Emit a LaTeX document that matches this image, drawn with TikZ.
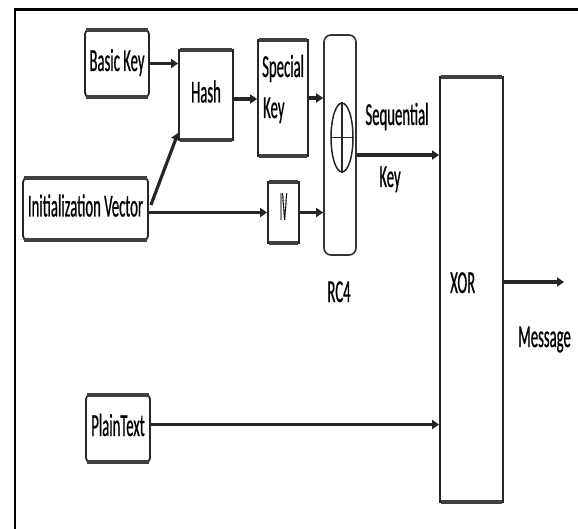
\documentclass[tikz,border=0pt]{standalone}
\usepackage{fontspec}
\usepackage{graphicx}
\usetikzlibrary{arrows.meta,shapes.geometric}
\newfontfamily\cf[FakeStretch=0.46,FakeBold=0.6]{Carlito}
\begin{document}
\begin{tikzpicture}[x=1pt,y=-1pt,
  txt/.style={font=\cf\fontsize{32}{38}\selectfont},
  box/.style={txt, draw=black!85, line width=1.8pt, fill=white, inner sep=0pt, text height=22pt, text depth=7pt},
  rbox/.style={box, rounded corners=4pt},
  lbl/.style={txt, inner sep=0pt},
  arr/.style={draw=black!85, line width=3.2pt, -{Triangle[length=7pt,width=9pt]}},
  edgebar/.style={line width=4pt, draw=black!75}]
\useasboundingbox (0,0) rectangle (578,529);
% frame
\draw[line width=2.8pt] (15,529) -- (15,9.5) -- (578,9.5);
% boxes
\node[rbox, minimum width=64pt, minimum height=67pt] (bk) at (117,63.5) {Basic Key};
\node[box, minimum width=54pt, minimum height=90pt] (hash) at (206,95) {Hash};
\node[box, minimum width=50pt, minimum height=116pt] (sk) at (283,98) {};
\node[rbox, minimum width=125pt, minimum height=62pt] (init) at (85.5,209) {Initialization Vector};
\node[box, minimum width=31pt, minimum height=61pt] (iv) at (283.5,212.5) {\scalebox{0.6}[1.3]{IV}};
\node[draw=black!80, line width=1.6pt, fill=white, rounded corners=7pt, minimum width=32pt, minimum height=220pt, inner sep=0pt] (rc4) at (340,145) {};
\node[draw=black!85, line width=1.5pt, ellipse, minimum width=22pt, minimum height=69pt, inner sep=0pt] (plus) at (342,137.5) {};
\draw[line width=1.5pt, black!85] (plus.north) -- (plus.south) (plus.west) -- (plus.east);
\node[rbox, minimum width=64pt, minimum height=67pt] (pt) at (118,428.5) {PlainText};
\node[box, minimum width=63pt, minimum height=425pt] (xor) at (471.5,289.5) {};
\foreach \n in {bk,hash,sk,init,iv,pt,xor}{
  \draw[edgebar] ([xshift=2pt,yshift=-1pt]\n.north west) -- ([xshift=-2pt,yshift=-1pt]\n.north east);
  \draw[edgebar] ([xshift=2pt,yshift=1pt]\n.south west) -- ([xshift=-2pt,yshift=1pt]\n.south east);
}
% labels
\node[lbl, anchor=base west] (skt1) at (262,77) {Special};
\node[lbl, anchor=base west] (skt2) at (263,118) {Key};
\node[lbl, anchor=base] (seq) at (397,125) {Sequential};
\node[lbl, anchor=base] (seqkey) at (390,187) {Key};
\node[lbl, anchor=base] (rc4t) at (339,302) {RC4};
\node[lbl, anchor=base west] (xort) at (450,293) {XOR};
\node[lbl, anchor=base west] (msg) at (518,347) {Message};
\coordinate (msgend) at (564,282);
\coordinate (hout) at ([yshift=-4pt]hash.east);
\coordinate (rout) at ([yshift=-10pt]rc4.east);
\coordinate (pout) at ([yshift=4pt]pt.east);
\coordinate (iout) at ([xshift=2pt,yshift=4pt]init.east);
\coordinate (hin) at ([yshift=8pt]hash.south west);
% connectors
\draw[arr] (bk.east) -- (hash.west |- bk.east);
\draw[arr] (hout) -- (sk.west |- hout);
\draw[arr] (sk.east) -- (rc4.west |- sk.east);
\draw[arr] (init.east |- iv.west) -- (iv.west);
\draw[arr] (iout) -- (hin);
\draw[arr] (iv.east) -- (rc4.west |- iv.east);
\draw[arr] (rout) -- (xor.west |- rout);
\draw[arr] (pout) -- (xor.west |- pout);
\draw[arr] (xor.east |- msgend) -- (msgend);
\end{tikzpicture}
\end{document}
